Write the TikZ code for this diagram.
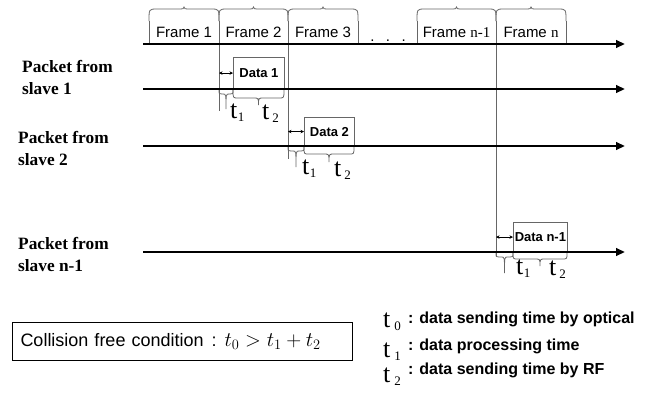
\documentclass[tikz,border=0pt]{standalone}
\usepackage{fontspec}
\setmainfont{Liberation Serif}
\setsansfont{Liberation Sans}
\usetikzlibrary{arrows.meta}
\tikzset{
  timeline/.style={line width=2.4pt,-{Triangle[length=9pt,width=7.5pt]}},
  edgeline/.style={draw=black!60,line width=0.8pt},
  bracestyle/.style={draw=black!60,line width=0.8pt},
  databox/.style={draw=black!60,line width=0.8pt,inner sep=1pt,
    font=\sffamily\bfseries\fontsize{13}{15}\selectfont},
  framelabel/.style={font=\sffamily\fontsize{15}{17}\selectfont,inner sep=0pt,anchor=base},
  slavelabel/.style={font=\rmfamily\bfseries\fontsize{17.3}{22}\selectfont,
    align=left,inner sep=0pt,anchor=base west},
  gaparrow/.style={{Stealth[length=3.5pt,width=3.5pt]}-{Stealth[length=3.5pt,width=3.5pt]},
    line width=0.7pt},
  tlabel/.style={inner sep=0pt,anchor=base west},
  legendtext/.style={font=\sffamily\bfseries\fontsize{16}{18}\selectfont,inner sep=0pt,anchor=base west},
}
% serif t with a detached, lowered index
\newcommand\tsym[2]{{\fontsize{26}{26}\selectfont t}\hspace{#2}\raisebox{-3pt}{\fontsize{13}{13}\selectfont #1}}
% curly brace: x-start, x-end, y, body depth, tip depth, corner radius
\newcommand\drawbrace[6]{%
  \draw[bracestyle] (#1,#3) .. controls (#1,{#3+(#4)}) .. ({#1+#6},{#3+(#4)})
    -- ({(#1+#2)/2-#6},{#3+(#4)}) .. controls ({(#1+#2)/2},{#3+(#4)}) .. ({(#1+#2)/2},{#3+(#5)})
    .. controls ({(#1+#2)/2},{#3+(#4)}) .. ({(#1+#2)/2+#6},{#3+(#4)})
    -- ({#2-#6},{#3+(#4)}) .. controls (#2,{#3+(#4)}) .. (#2,#3);}
\begin{document}
\begin{tikzpicture}[x=1pt,y=-1pt]
\useasboundingbox (0,0) rectangle (653,392);

% ---- frame row ----
\coordinate (fa) at (143,44);  \coordinate (fb) at (625,44);
\draw[edgeline] (149,44) -- (149,21);
\draw[edgeline] (358,21) -- (358,44);
\draw[edgeline] (417,44) -- (417,21);
\draw[edgeline] (566,21) -- (566,44);
% frame boundaries that run down to the slave rows
\coordinate (b12) at (219,21);
\coordinate (b23) at (288,21);
\coordinate (bnn) at (496,21);
\draw[edgeline] (b12) -- (219,111);
\draw[edgeline] (b23) -- (288,159);
\draw[edgeline] (bnn) -- (496,256);
\drawbrace{149}{219}{21}{-12}{-14}{8}
\drawbrace{219}{288}{21}{-12}{-14}{8}
\drawbrace{288}{358}{21}{-12}{-14}{8}
\drawbrace{417}{496}{21}{-12}{-14}{8}
\drawbrace{496}{566}{21}{-12}{-14}{8}
\node[framelabel] (fl1) at (184,37) {Frame 1};
\node[framelabel] (fl2) at (253.5,37) {Frame 2};
\node[framelabel] (fl3) at (323,37) {Frame 3};
\node[framelabel] (fl4) at (456.5,37) {Frame {\rmfamily n-1}};
\node[framelabel] (fl5) at (531,37) {Frame {\rmfamily n}};
\node[framelabel] (dots) at (388,41) {.\hspace{11.5pt}.\hspace{11.5pt}.};
\draw[timeline] (fa) -- (fb);

% ---- slave rows ----
\coordinate (s1a) at (143,89);  \coordinate (s1b) at (625,89);
\coordinate (s2a) at (143,146); \coordinate (s2b) at (625,146);
\coordinate (s3a) at (143,252); \coordinate (s3b) at (625,252);

% labels are placed by the baseline of their second line
\node[slavelabel] (p1) at (22,94)  {Packet from\\slave 1};
\node[slavelabel] (p2) at (18,165) {Packet from\\slave 2};
\node[slavelabel] (p3) at (18,271) {Packet from\\slave n-1};

\node[databox,anchor=south west,minimum width=51pt,minimum height=31pt] (d1) at (233,89) {Data 1};
\node[databox,anchor=south west,minimum width=50pt,minimum height=28pt] (d2) at (304,146) {Data 2};
\node[databox,anchor=south west,minimum width=54pt,minimum height=29pt] (d3) at (513,252) {Data n-1};

\draw[timeline] (s1a) -- (s1b);
\draw[timeline] (s2a) -- (s2b);
\draw[timeline] (s3a) -- (s3b);

\draw[gaparrow] (b12 |- d1.west) -- (d1.west);
\draw[gaparrow] (b23 |- d2.west) -- (d2.west);
\draw[gaparrow] (bnn |- d3.west) -- (d3.west);

% processing (t1) and RF (t2) intervals
\drawbrace{219}{233}{90}{4}{19}{3}
\drawbrace{233}{284}{90}{8}{15}{5}
\drawbrace{288}{304}{147}{4}{20}{3}
\drawbrace{304}{354}{147}{7}{15}{5}
\drawbrace{496}{513}{253}{4}{20}{3}
\drawbrace{513}{567}{253}{6}{13}{5}

\node[tlabel] (t11) at (230,118) {\tsym{1}{0.5pt}};
\node[tlabel] (t12) at (262,119) {\tsym{2}{3pt}};
\node[tlabel] (t21) at (302,174) {\tsym{1}{0.5pt}};
\node[tlabel] (t22) at (334,176) {\tsym{2}{3pt}};
\node[tlabel] (t31) at (516,274) {\tsym{1}{0.5pt}};
\node[tlabel] (t32) at (549,275) {\tsym{2}{3pt}};

% ---- condition and legend ----
\node[draw,line width=1pt,anchor=north west,minimum height=38pt,text width=324pt,
  inner xsep=8pt,align=left,font=\sffamily\fontsize{18}{20}\selectfont] (cond) at (12,322)
  {Collision free condition\hspace{8pt}:\hspace{8pt}{\fontsize{20}{22}\selectfont$t_0 > t_1 + t_2$}};

\node[tlabel] (lt0) at (383,327) {\tsym{0}{4pt}};
\node[tlabel] (lt1) at (383,357) {\tsym{1}{4pt}};
\node[tlabel] (lt2) at (383,382) {\tsym{2}{4pt}};
\node[legendtext] (lx0) at (408,323) {: data sending time by optical};
\node[legendtext] (lx1) at (408,350) {: data processing time};
\node[legendtext] (lx2) at (408,374) {: data sending time by RF};
\end{tikzpicture}
\end{document}
